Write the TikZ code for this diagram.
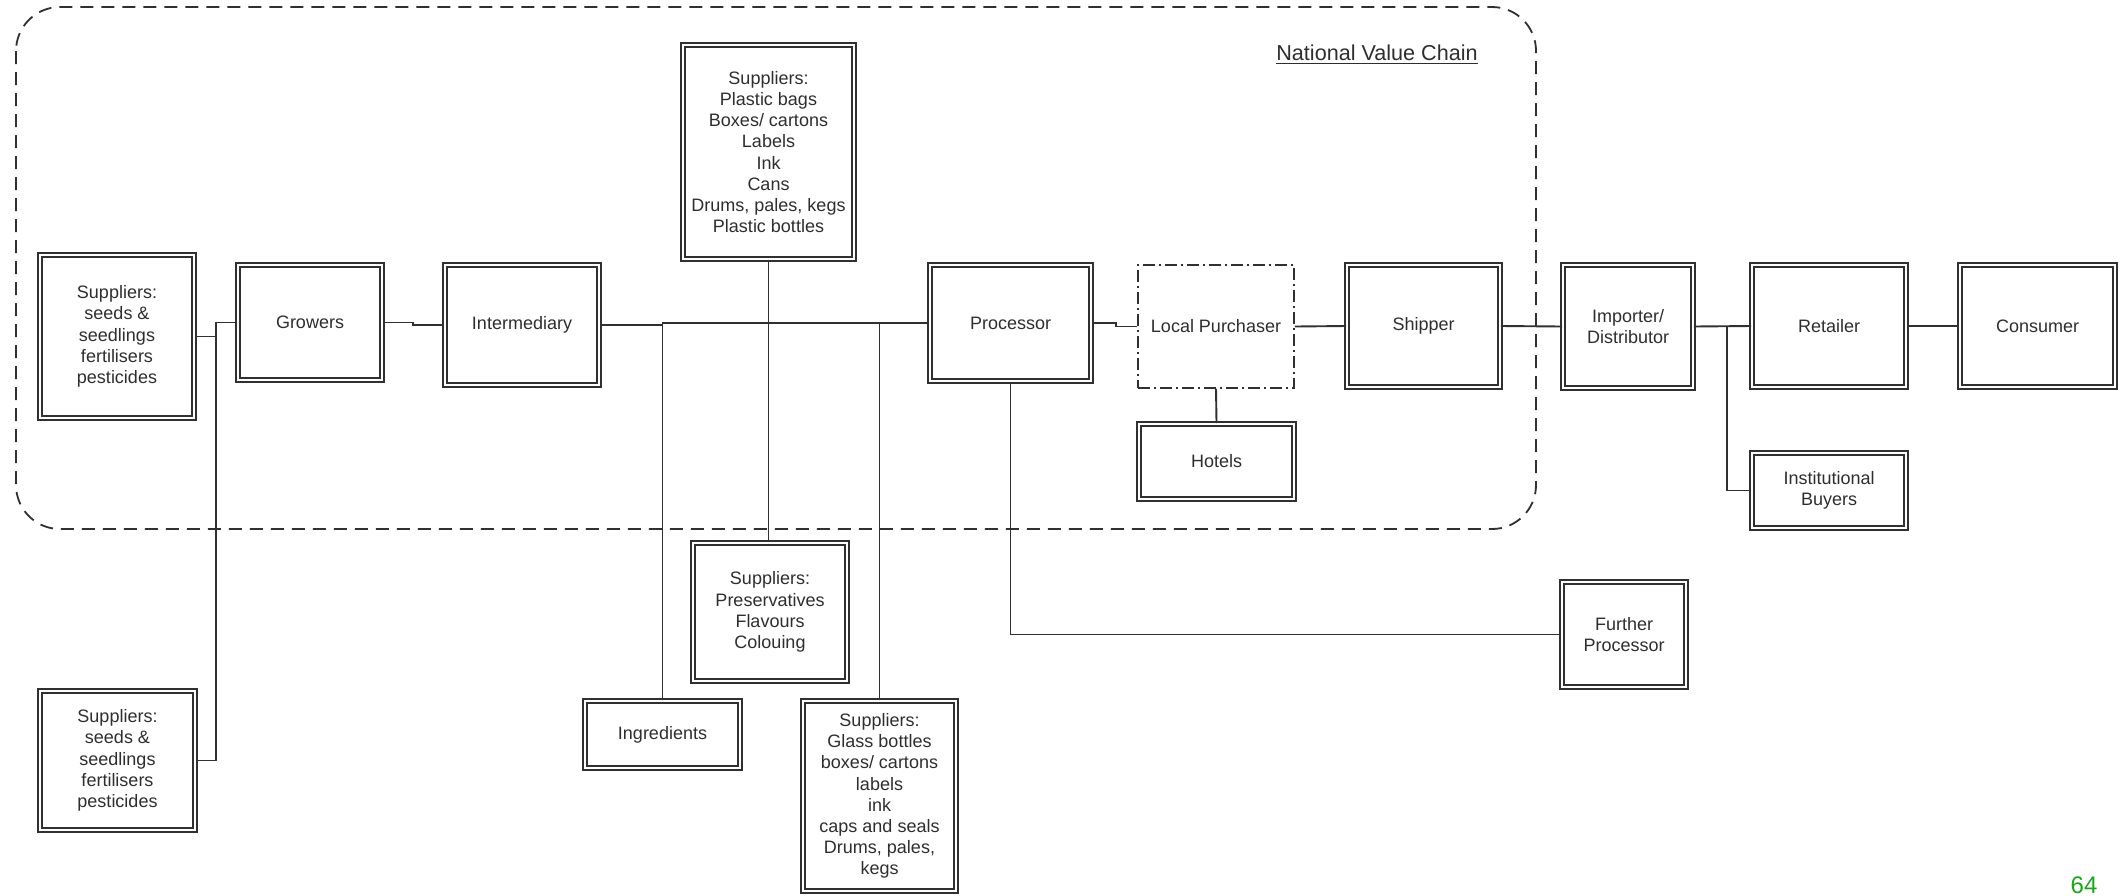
\documentclass[tikz,border=0pt]{standalone}
\usepackage{fontspec}
\setmainfont{Liberation Sans}
\usetikzlibrary{calc}
\definecolor{ink}{HTML}{2E2E2E}
\definecolor{linec}{HTML}{303030}
\definecolor{pagenum}{HTML}{1AA51A}

\begin{document}
\begin{tikzpicture}[x=0.5pt,y=-0.5pt,
  boxtext/.style={inner sep=0pt, align=center, text=ink, font=\fontsize{9}{10.6}\selectfont},
  box/.style={boxtext, draw=linec, line width=0.8pt, double=white, double distance=1.1pt},
  localbox/.style={boxtext, draw=linec, line width=0.9pt, dash pattern=on 6pt off 2pt on 1pt off 2pt},
  place/.style n args={4}{minimum width={(#3-#1-4)*0.5pt}, minimum height={(#4-#2-4)*0.5pt}, at={({(#1+#3)/2},{(#2+#4)/2})}},
  wire/.style={draw=linec, line width=0.95pt},
  region/.style={draw=linec, line width=0.9pt, dash pattern=on 6.5pt off 4pt, rounded corners=22pt}
]
\useasboundingbox (0,0) rectangle (2128,895);

% national value chain boundary
\draw[region] (16,7) rectangle (1536,529);
\node[text=ink, font=\fontsize{10.8}{13}\selectfont, anchor=base] (title) at (1377,60) {\underline{National Value Chain}};

% actors
\node[box, place={38}{253}{196}{420}] (supA) {Suppliers:\\seeds \&\\seedlings\\fertilisers\\pesticides};
\node[box, place={38}{689}{197}{832}] (supB) {Suppliers:\\seeds \&\\seedlings\\fertilisers\\pesticides};
\node[box, place={236}{263}{384}{382}] (grow) {Growers};
\node[box, place={443}{263}{601}{387}] (inter) {Intermediary};
\node[box, place={681}{43}{856}{261}] (pack) {Suppliers:\\Plastic bags\\Boxes/ cartons\\Labels\\Ink\\Cans\\Drums, pales, kegs\\Plastic bottles};
\node[box, place={928}{263}{1093}{383}] (proc) {Processor};
\node[localbox, place={1136}{263}{1296}{390}] (lp) {Local Purchaser};
\node[box, place={1137}{422}{1296}{501}] (hotel) {Hotels};
\node[box, place={1345}{263}{1502}{389}] (ship) {Shipper};
\node[box, place={1561}{263}{1695}{390}] (imp) {Importer/\\Distributor};
\node[box, place={1750}{263}{1908}{389}] (ret) {Retailer};
\node[box, place={1958}{263}{2117}{389}] (cons) {Consumer};
\node[box, place={1750}{451}{1908}{530}] (inst) {Institutional\\Buyers};
\node[box, place={1560}{580}{1688}{689}] (fproc) {Further\\Processor};
\node[box, place={691}{541}{849}{683}] (pres) {Suppliers:\\Preservatives\\Flavours\\Colouing};
\node[box, place={583}{699}{742}{770}] (ingr) {Ingredients};
\node[box, place={801}{699}{958}{893}] (glass) {Suppliers:\\Glass bottles\\boxes/ cartons\\labels\\ink\\caps and seals\\Drums, pales,\\kegs};

% connectors
\coordinate (jA) at ($(supA.east)+(21,0)$);
\draw[wire] (supA.east) -- (jA) |- (grow.west);
\draw[wire] (supB.east) -| (jA);
\draw[wire] (grow.east) -- ++(30,0) |- (inter.west);
\coordinate (jI) at (inter.east -| ingr.north);
\draw[wire] (inter.east) -- (jI) |- (proc.west);
\draw[wire] (ingr.north) -- (jI);
\draw[wire] (pack.south) -- (pack.south |- pres.north);
\draw[wire] (glass.north) -- (glass.north |- proc.west);
\draw[wire] (proc.east) -- ++(24,0) |- (lp.west);
\draw[wire] (lp.east) -- (ship.west);
\draw[wire] (lp.south) -- (hotel.north);
\draw[wire] (ship.east) -- (imp.west);
\draw[wire] (imp.east) -- (ret.west);
\coordinate (jR) at ($(imp.east)!0.58!(ret.west)$);
\draw[wire] (jR) |- (inst.west);
\draw[wire] (ret.east) -- (cons.west);
\draw[wire] (proc.south) |- (fproc.west);

% page number
\node[text=pagenum, font=\fontsize{12}{14}\selectfont, anchor=base] (pg) at (2084,893) {64};
\end{tikzpicture}
\end{document}
